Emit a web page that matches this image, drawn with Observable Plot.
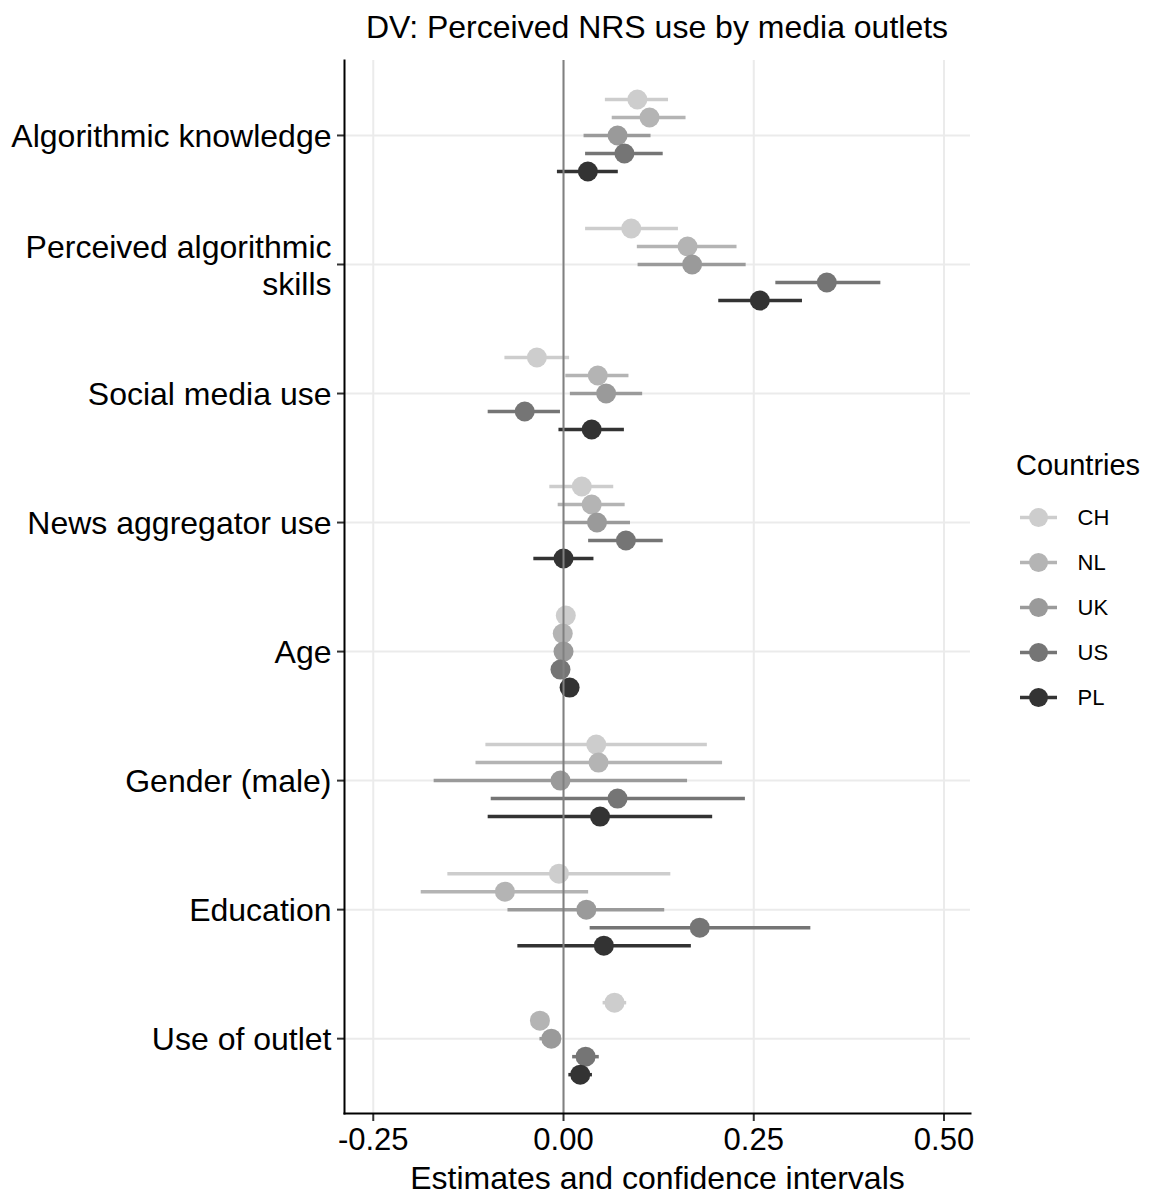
<!DOCTYPE html>
<html><head><meta charset="utf-8">
<script src="https://cdn.jsdelivr.net/npm/d3@7"></script>
<script src="https://cdn.jsdelivr.net/npm/@observablehq/plot@0.6"></script>
<style>
body{margin:0;background:#fff;font-family:"Liberation Sans",Arial,sans-serif;color:#000;}
#wrap{position:relative;width:1150px;height:1196px;background:#fff;}
#title{position:absolute;left:344px;width:626px;top:8px;text-align:center;font-size:32px;line-height:38px;white-space:nowrap;}
#legend-title{position:absolute;left:1016px;top:448px;font-size:29px;line-height:34px;}
#chart{position:absolute;left:0;top:0;}
#legend{position:absolute;left:1000px;top:440px;}
</style></head><body>
<div id="wrap">
<div id="chart"></div>
<div id="title">DV: Perceived NRS use by media outlets</div>
<div id="legend-title">Countries</div>
<div id="legend"></div>
</div>
<script>
const predictors = ["Algorithmic knowledge", "Perceived algorithmic\nskills", "Social media use", "News aggregator use", "Age", "Gender (male)", "Education", "Use of outlet"];
const countries = ["CH", "NL", "UK", "US", "PL"];
const countryColors = ["#cdcdcd", "#b4b4b4", "#9a9a9a", "#757575", "#333333"];
const xTicks = [-0.25, 0, 0.25, 0.5];

const est_CH = [0.097, 0.089, -0.035, 0.024, 0.003, 0.043, -0.006, 0.067];
const lo_CH  = [0.055, 0.029, -0.077, -0.018, 0.001, -0.102, -0.152, 0.052];
const hi_CH  = [0.138, 0.151, 0.008, 0.066, 0.005, 0.189, 0.141, 0.083];

const est_NL = [0.113, 0.163, 0.045, 0.037, -0.001, 0.046, -0.077, -0.031];
const lo_NL  = [0.064, 0.097, 0.003, -0.007, -0.003, -0.115, -0.187, -0.035];
const hi_NL  = [0.161, 0.228, 0.086, 0.081, 0.001, 0.209, 0.033, -0.027];

const est_UK = [0.071, 0.169, 0.056, 0.044, 0.000, -0.004, 0.030, -0.016];
const lo_UK  = [0.027, 0.098, 0.009, 0.001, -0.002, -0.170, -0.073, -0.031];
const hi_UK  = [0.115, 0.240, 0.104, 0.088, 0.002, 0.163, 0.133, -0.006];

const est_US = [0.080, 0.346, -0.051, 0.082, -0.004, 0.071, 0.179, 0.029];
const lo_US  = [0.029, 0.279, -0.099, 0.033, -0.006, -0.095, 0.035, 0.012];
const hi_US  = [0.131, 0.417, -0.004, 0.131, -0.002, 0.239, 0.325, 0.047];

const est_PL = [0.032, 0.258, 0.037, 0.000, 0.008, 0.048, 0.053, 0.022];
const lo_PL  = [-0.008, 0.204, -0.006, -0.039, 0.006, -0.099, -0.060, 0.007];
const hi_PL  = [0.072, 0.314, 0.080, 0.040, 0.010, 0.196, 0.168, 0.038];

const series = {
  CH: [est_CH, lo_CH, hi_CH],
  NL: [est_NL, lo_NL, hi_NL],
  UK: [est_UK, lo_UK, hi_UK],
  US: [est_US, lo_US, hi_US],
  PL: [est_PL, lo_PL, hi_PL]
};

const dodge = 0.1395;
const rows = [];
countries.forEach((c, ci) => {
  const [e, l, h] = series[c];
  predictors.forEach((p, pi) => {
    rows.push({country: c, predictor: p, yPos: pi + (ci - 2) * dodge, est: e[pi], lo: l[pi], hi: h[pi]});
  });
});

const font = "'Liberation Sans', Arial, sans-serif";

const chart = Plot.plot({
  width: 1150,
  height: 1196,
  marginLeft: 344,
  marginRight: 180,
  marginTop: 60,
  marginBottom: 83,
  style: {fontFamily: font, fontSize: "31px", color: "#000", background: "white"},
  x: {domain: [-0.2878, 0.5348]},
  y: {domain: [-0.581, 7.58], reverse: true},
  color: {domain: countries, range: countryColors},
  marks: [
    Plot.gridX(xTicks, {stroke: "#ebebeb", strokeOpacity: 1, strokeWidth: 2}),
    Plot.gridY(d3.range(predictors.length), {stroke: "#ebebeb", strokeOpacity: 1, strokeWidth: 2}),
    Plot.ruleY(rows, {y: "yPos", x1: "lo", x2: "hi", stroke: "country", strokeWidth: 3.5}),
    Plot.dot(rows, {x: "est", y: "yPos", fill: "country", r: 10}),
    Plot.ruleX([0], {stroke: "#808080", strokeWidth: 2}),
    Plot.axisX({ticks: xTicks, tickFormat: d => d.toFixed(2), tickSize: 8, tickPadding: 6, fontSize: 31, label: null, stroke: "#333", strokeWidth: 2}),
    Plot.axisY({ticks: d3.range(predictors.length), tickFormat: i => predictors[i], tickSize: 7, tickPadding: 6, fontSize: 32, lineHeight: 1.15, label: null, stroke: "#333", strokeWidth: 2}),
    Plot.frame({anchor: "left", stroke: "#000", strokeWidth: 2}),
    Plot.frame({anchor: "bottom", stroke: "#000", strokeWidth: 2}),
    Plot.text(["Estimates and confidence intervals"], {frameAnchor: "bottom", dy: 75, fontSize: 32})
  ]
});
document.getElementById("chart").appendChild(chart);

const legend = Plot.plot({
  width: 150,
  height: 280,
  marginLeft: 20,
  marginRight: 93,
  marginTop: 76,
  marginBottom: 22,
  style: {fontFamily: font, fontSize: "22px", color: "#000", background: "transparent"},
  x: {axis: null},
  y: {type: "point", domain: countries, padding: 0, axis: null},
  color: {domain: countries, range: countryColors},
  marks: [
    Plot.ruleY(countries, {y: d => d, stroke: d => d, strokeWidth: 3.5}),
    Plot.dot(countries, {y: d => d, fill: d => d, r: 9.5, frameAnchor: "left", dx: 18}),
    Plot.text(countries, {y: d => d, text: d => d, frameAnchor: "right", dx: 20, textAnchor: "start", fontSize: 22})
  ]
});
document.getElementById("legend").appendChild(legend);
</script>
</body></html>
